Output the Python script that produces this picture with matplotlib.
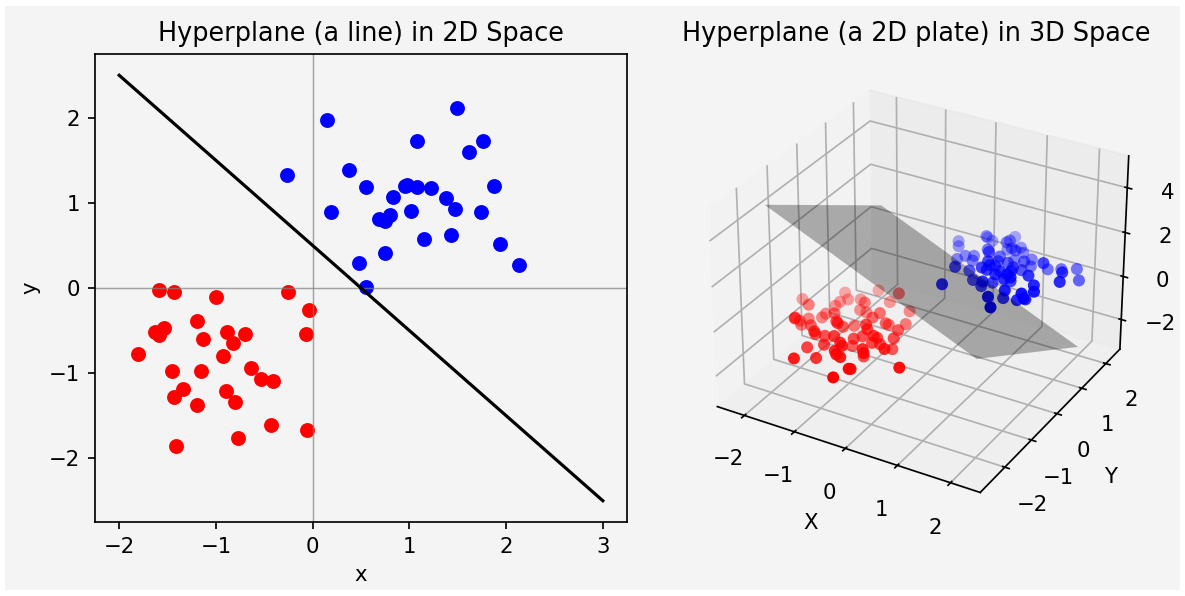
import matplotlib
matplotlib.use("Agg")
import matplotlib.pyplot as plt
import numpy as np
from matplotlib.patches import Rectangle

W, H, DPI = 1185, 596, 153
BG = '#f4f4f4'
blue_x = [0.15,1.49,1.08,1.76,1.62,-0.27,0.38,0.55,1.88,0.95,0.98,1.08,1.22,0.83,1.38,0.19,1.02,1.47,1.74,0.80,0.69,0.75,1.15,1.43,1.94,0.75,0.48,2.13,0.55]
blue_y = [1.98,2.12,1.73,1.73,1.60,1.33,1.39,1.19,1.20,1.20,1.21,1.19,1.17,1.07,1.06,0.89,0.91,0.93,0.89,0.86,0.81,0.79,0.58,0.62,0.52,0.41,0.29,0.27,0.01]
red_x = [-1.59,-1.43,-1.00,-0.25,-0.04,-1.20,-1.63,-1.54,-1.59,-0.89,-0.70,-1.13,-0.07,-0.82,-1.81,-0.93,-0.64,-1.45,-1.15,-0.53,-0.41,-1.34,-0.90,-1.43,-1.20,-0.80,-0.43,-0.77,-0.06,-1.41]
red_y = [-0.02,-0.05,-0.11,-0.05,-0.26,-0.39,-0.52,-0.47,-0.55,-0.52,-0.54,-0.60,-0.54,-0.65,-0.77,-0.80,-0.94,-0.98,-0.98,-1.07,-1.09,-1.19,-1.21,-1.28,-1.38,-1.34,-1.61,-1.76,-1.67,-1.86]
line_x = [-2, 3]
line_y = [2.5, -2.5]
plate_x = [[-2, 2], [-2, 2]]
plate_y = [[-2, -2], [2, 2]]
plate_z = [[5, 1], [1, -3]]

red3_x = [-2.40,-1.96,-1.87,-1.70,-1.78,-1.78,-1.51,-1.16,-1.40,-0.60,-1.02,-0.56,-1.33,-1.19,-0.75,-0.78,-1.70,-1.93,-2.04,-1.95,-1.95,-1.56,-1.19,-1.34,-1.77,-1.78,-1.42,-1.04,-0.99,-1.06,-1.14,-0.82,-1.17,-1.03,-0.62,-0.54,-0.56,-0.48,-0.38,-0.82,-0.70,-0.61,-0.55,-0.45,-0.25,-0.37,-0.49,-0.64,-0.19,-0.40,-0.12,0.12,-0.22,-0.18,-0.36,-0.19,-0.11,-0.48,-0.07,-0.04,0.63,-0.15,-0.92,-1.23,-1.02]
red3_y = [-0.20,-0.72,0.41,0.22,0.07,-0.10,0.34,-0.13,0.80,0.10,0.53,0.42,0.00,-0.02,-0.32,-0.53,-1.63,-1.24,-0.90,-1.01,-0.75,-1.33,-1.84,-1.55,-0.59,-0.44,-0.75,-1.34,-1.38,-1.08,-0.55,-1.80,-1.52,-1.79,-1.94,-2.02,-2.23,-2.32,-2.36,-1.18,-1.34,-1.19,-1.17,-1.30,-1.44,-1.10,-0.58,-0.20,-0.68,-0.02,-0.97,-1.73,-1.27,-0.91,-1.30,-1.93,-2.04,-1.39,-2.62,-2.61,-2.14,-3.00,-2.25,-2.02,-2.81]
red3_z = [-1.35,-0.75,-1.35,-1.35,-1.35,-1.35,-1.35,-0.75,-1.35,-0.2,-1.35,-1.35,-1.35,-1.35,-0.75,-0.75,-0.2,-0.75,-1.35,-1.35,-1.35,-0.75,-0.2,-0.75,-1.35,-1.35,-0.75,-0.2,-0.2,-0.75,-1.35,-0.2,-0.75,-0.75,-0.2,-0.2,-0.2,-0.2,-0.2,-1.35,-0.75,-0.75,-0.2,-0.2,-0.2,-0.75,-0.75,-1.35,-0.75,-1.35,-0.75,-0.2,-0.75,-1.35,-0.75,-0.2,-0.2,-1.35,-0.2,-0.2,-0.2,-0.2,-0.75,-0.75,-0.2]
blue3_x = [0.23,0.05,0.18,0.46,0.66,0.64,-0.33,-0.24,0.48,0.76,0.82,0.91,0.73,0.56,0.85,0.03,0.16,0.22,-0.04,0.51,0.56,0.77,1.15,0.99,0.61,0.90,0.99,1.02,0.91,0.78,0.83,1.00,1.22,1.09,1.74,0.84,1.19,1.32,1.72,1.40,1.39,1.49,1.42,1.34,1.10,1.61,1.50,1.47,1.67,1.73,1.90,2.00,1.84,1.95,2.05,1.49,2.16,1.69,2.27,1.92,2.13,1.22,1.24,1.15,0.86]
blue3_y = [1.83,2.24,2.17,2.52,1.90,1.81,1.84,1.67,1.39,0.88,1.66,1.62,2.21,2.01,2.06,1.41,1.49,1.32,1.23,0.09,0.53,0.26,-0.13,0.14,-0.58,0.57,0.46,0.28,0.31,1.27,1.10,1.14,1.33,1.91,1.01,1.72,1.67,1.02,0.47,0.46,0.32,0.25,0.14,0.56,0.35,-0.21,-0.04,-0.56,-0.86,0.02,-0.16,-0.29,0.12,0.21,0.01,1.73,0.88,1.86,0.55,2.01,1.65,0.21,0.35,1.04,0.92]
blue3_z = [1.15,0.55,0.55,0.55,1.15,1.15,0.55,0.55,1.15,1.75,1.15,1.15,0.55,0.55,0.55,0.55,0.55,0.55,0.55,1.75,1.15,1.15,1.75,1.15,1.75,1.75,1.75,1.75,1.75,1.15,1.15,1.15,1.15,0.55,1.75,0.55,0.55,1.15,1.75,1.75,1.75,1.75,1.75,1.15,1.15,1.75,1.15,1.75,1.75,1.15,1.75,1.75,1.15,1.75,1.75,0.55,1.75,0.55,1.75,0.55,0.55,1.75,1.75,1.15,1.15]

fig = plt.figure(figsize=(W/DPI, H/DPI), dpi=DPI, facecolor='white')
fig.add_artist(Rectangle((5/W, 6/H), 1175/W, 584/H, transform=fig.transFigure, facecolor=BG, edgecolor='none', zorder=-10))

ax = fig.add_axes([95/W, 1-522/H, 532/W, 468/H], facecolor=BG)
ax.axhline(0, color='gray', lw=0.7, alpha=0.7)
ax.axvline(0, color='gray', lw=0.7, alpha=0.7)
ax.scatter(blue_x, blue_y, c='b', s=36)
ax.scatter(red_x, red_y, c='r', s=36)
ax.plot(line_x, line_y, 'k')
ax.set_xlim(-2.25, 3.25)
ax.set_ylim(-2.75, 2.75)
ax.set_xticks([-2,-1,0,1,2,3])
ax.set_yticks([-2,-1,0,1,2])
ax.set_xlabel('x')
ax.set_ylabel('y')
ax.set_title('Hyperplane (a line) in 2D Space')

a3 = fig.add_axes([650/W, 1-522/H, 532/W, 468/H], projection='3d', facecolor=BG)
a3.computed_zorder = False
a3.scatter(red3_x, red3_y, red3_z, c='r', s=32, linewidths=0, zorder=1)
a3.scatter(blue3_x, blue3_y, blue3_z, c='b', s=32, linewidths=0, zorder=2)
a3.plot_surface(np.array(plate_x), np.array(plate_y), np.array(plate_z), color='k', alpha=0.3, shade=False, zorder=3)
a3.set_xlim(-2.55,2.55); a3.set_ylim(-2.9,2.6); a3.set_zlim(-3.4,5.4)
a3.set_xticks([-2,-1,0,1,2]); a3.set_yticks([-2,-1,0,1,2]); a3.set_zticks([-2,0,2,4])
a3.set_xlabel('X'); a3.set_ylabel('Y')
a3.set_title('Hyperplane (a 2D plate) in 3D Space')
fig.savefig('out.png', dpi=DPI)
